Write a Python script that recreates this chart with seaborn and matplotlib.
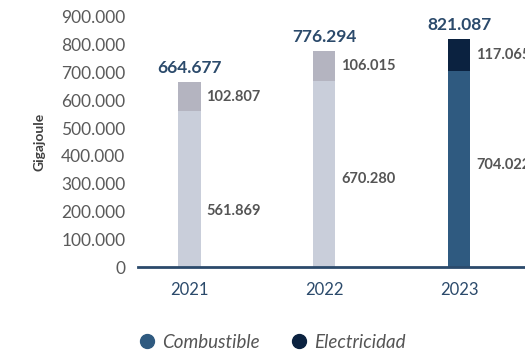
import matplotlib
matplotlib.use("Agg")
import matplotlib.pyplot as plt
from matplotlib.lines import Line2D
import seaborn as sns
import pandas as pd

# Energy consumption per year (GJ)
years = ["2021", "2022", "2023"]
combustible = [561869, 670280, 704022]
electricidad = [102807, 106015, 117065]
totales = [664677, 776294, 821087]
y_ticks = [0, 100000, 200000, 300000, 400000, 500000, 600000, 700000, 800000, 900000]

base_colors = ["#c9ceda", "#c9ceda", "#2f5a80"]
top_colors = ["#b4b4c0", "#b4b4c0", "#0b2240"]
label_frac = [0.36, 0.47, 0.52]

def fmt(v):
    return f"{v:,.0f}".replace(",", ".")

sns.set_theme(style="white")
plt.rcParams["font.family"] = ["Lato", "DejaVu Sans"]

df = pd.DataFrame({"year": years, "comb": combustible, "elec": electricidad, "total": totales})

fig = plt.figure(figsize=(5.25, 3.53), dpi=100)
ax = fig.add_axes([138 / 525, 0.2436, 402 / 525, 0.7084])

bw = 0.17
sns.barplot(data=df, x="year", y="total", hue="year", palette=top_colors,
            dodge=False, width=bw, legend=False, ax=ax, saturation=1, linewidth=0)
sns.barplot(data=df, x="year", y="comb", hue="year", palette=base_colors,
            dodge=False, width=bw, legend=False, ax=ax, saturation=1, linewidth=0)

ax.set_xlim(-0.378, 2.6)
ax.set_ylim(0, 900000)
ax.set_yticks(y_ticks)
ax.set_yticklabels([fmt(t) for t in y_ticks], color="#5a5a5a", fontsize=12.5)
ax.tick_params(axis="y", length=0, pad=9)
ax.tick_params(axis="x", length=0, pad=11, labelsize=12, labelcolor="#2b4a6b")
ax.set_xlabel("")
ax.set_ylabel("Gigajoule", fontsize=10, fontweight="bold", color="#404040")
ax.yaxis.set_label_coords(-93 / 402, 0.5)

for s in ["top", "right", "left"]:
    ax.spines[s].set_visible(False)
ax.spines["bottom"].set_color("#2b4a6b")
ax.spines["bottom"].set_linewidth(2)

for i in range(len(years)):
    ax.text(i, totales[i] + 22000, fmt(totales[i]), ha="center", va="bottom",
            fontsize=12.5, fontweight="bold", color="#2b4a6b", clip_on=False)
    ax.annotate(fmt(electricidad[i]), (i + bw / 2, combustible[i] + electricidad[i] / 2),
                xytext=(4, 0), textcoords="offset points", ha="left", va="center",
                fontsize=10.5, fontweight="bold", color="#555555", annotation_clip=False)
    ax.annotate(fmt(combustible[i]), (i + bw / 2, combustible[i] * label_frac[i]),
                xytext=(4, 0), textcoords="offset points", ha="left", va="center",
                fontsize=10.5, fontweight="bold", color="#555555", annotation_clip=False)

handles = [
    Line2D([], [], marker="o", linestyle="", markersize=10, color="#2f5a80"),
    Line2D([], [], marker="o", linestyle="", markersize=10, color="#0b2240"),
]
fig.legend(handles, ["Combustible", "Electricidad"], loc="center", bbox_to_anchor=(272 / 525, 1 - 342 / 353),
           ncol=2, frameon=False, handlelength=1.0, handletextpad=0.3, columnspacing=1.6,
           prop={"style": "italic", "size": 13.5}, labelcolor="#555555")

fig.savefig("out.png", dpi=100)
